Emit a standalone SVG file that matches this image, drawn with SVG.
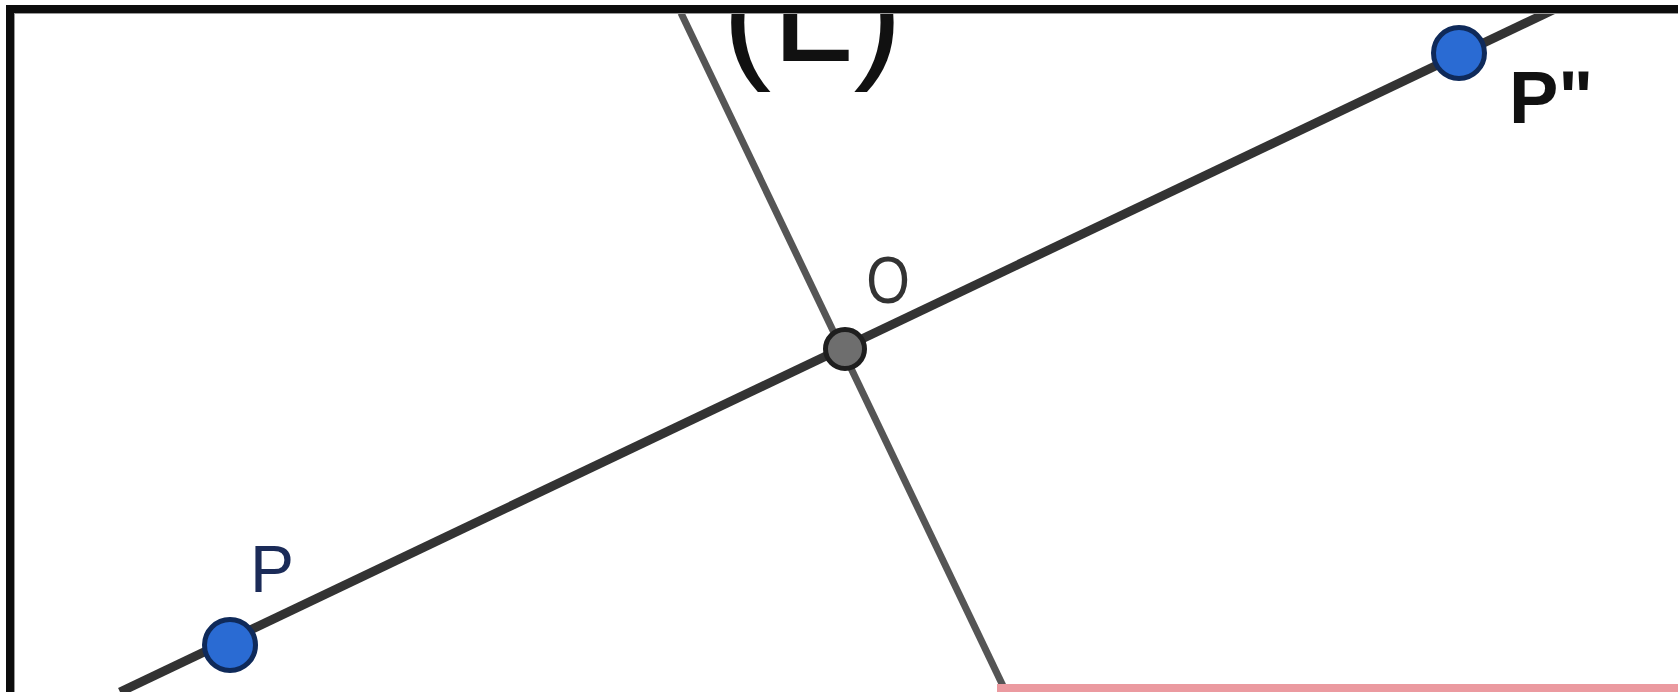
<svg xmlns="http://www.w3.org/2000/svg" width="1678" height="692" viewBox="0 0 1678 692">
  <defs>
    <style>
      .lbl { font-family: "Liberation Sans", Arial, sans-serif; }
      .pt-blue { fill: #2a6bd3; stroke: #0f2a5a; stroke-width: 5; }
      .pt-grey { fill: #6e6e6e; stroke: #1e1e1e; stroke-width: 5; }
    </style>
    <clipPath id="inner">
      <rect x="14" y="13" width="1664" height="679"/>
    </clipPath>
  </defs>
  <rect x="0" y="0" width="1678" height="692" fill="#ffffff"/>
  <g clip-path="url(#inner)">
    <g id="connectors">
      <line id="line-L" x1="681" y1="13" x2="1004" y2="688" stroke="#555555" stroke-width="7"/>
      <line id="line-PP" x1="120" y1="692" x2="1553" y2="10" stroke="#333333" stroke-width="9"/>
      <rect id="pink-line" x="997" y="684" width="681" height="8" fill="#eb9aa0"/>
    </g>
    <g id="label-L">
      <text class="lbl" x="722" y="61" font-size="148" fill="#111111">(L)</text>
    </g>
    <g id="node-O">
      <circle class="pt-grey" cx="845" cy="349" r="19.5"/>
      <text class="lbl" transform="translate(888,303) scale(0.85,1)" text-anchor="middle" font-size="66" fill="#333333">O</text>
    </g>
    <g id="node-P">
      <circle class="pt-blue" cx="230" cy="645" r="25.5"/>
      <text class="lbl" x="250" y="592" font-size="66" fill="#1b2b58">P</text>
    </g>
    <g id="node-P2">
      <circle class="pt-blue" cx="1459" cy="53" r="25.5"/>
      <text class="lbl" x="1509" y="123" font-size="74" font-weight="bold" fill="#111111">P"</text>
    </g>
  </g>
  <g id="frame">
    <rect x="6" y="5" width="8" height="687" fill="#0d0d0d"/>
    <rect x="6" y="5" width="1672" height="8" fill="#0d0d0d"/>
    <line x1="14.5" y1="13" x2="14.5" y2="692" stroke="#999999" stroke-width="1"/>
    <line x1="14" y1="13.5" x2="1678" y2="13.5" stroke="#999999" stroke-width="1"/>
  </g>
</svg>
